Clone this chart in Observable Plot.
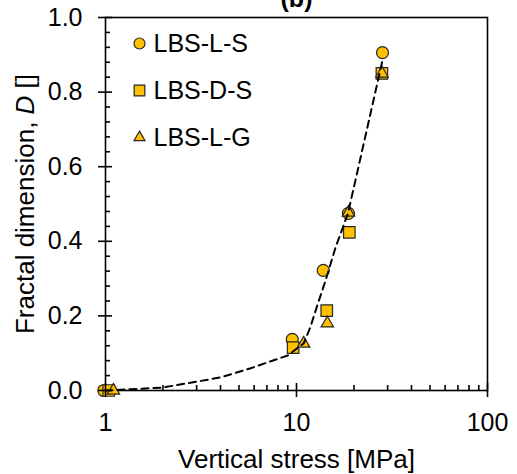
<!DOCTYPE html>
<html>
<head>
<meta charset="utf-8">
<script src="https://cdn.jsdelivr.net/npm/d3@7"></script>
<script src="https://cdn.jsdelivr.net/npm/@observablehq/plot@0.6"></script>
<style>
  html, body { margin: 0; padding: 0; background: #fff; }
</style>
</head>
<body>
<div id="chart"></div>
<script>
// --- Data ---
const seriesNames = ["LBS-L-S", "LBS-D-S", "LBS-L-G"];
const seriesSymbols = ["circle", "square", "triangle"];

const stressLS = [0.98, 9.5, 13.8, 18.7, 28.2];
const fractalLS = [0.0, 0.137, 0.322, 0.475, 0.906];

const stressDS = [1.04, 9.6, 14.4, 18.9, 28.0];
const fractalDS = [0.0, 0.115, 0.214, 0.424, 0.85];

const stressLG = [1.1, 10.9, 14.5, 18.7, 28.0];
const fractalLG = [0.0, 0.126, 0.18, 0.477, 0.85];

// dashed trend curve
const curveStress = [1, 2, 4, 5.7, 9, 10.9, 11.8, 13, 14.2, 16, 18.6, 28.2];
const curveFractal = [0, 0.008, 0.035, 0.059, 0.094, 0.126, 0.169, 0.236, 0.295, 0.383, 0.475, 0.885];

// ticks
const xMajor = [1, 10, 100];
const xMinor = [2, 3, 4, 5, 6, 7, 8, 9, 20, 30, 40, 50, 60, 70, 80, 90];
const yMajor = [0, 0.2, 0.4, 0.6, 0.8, 1.0];
const yMinor = [0.04, 0.08, 0.12, 0.16, 0.24, 0.28, 0.32, 0.36, 0.44, 0.48, 0.52, 0.56, 0.64, 0.68, 0.72, 0.76, 0.84, 0.88, 0.92, 0.96];

const titleText = "(b)";
const xLabel = "Vertical stress [MPa]";
const yLabel = "Fractal dimension, D []";

// --- Build ---
const fillColor = "#FFC000";
const strokeColor = "#262626";
const symbolR = {circle: 6, square: 6.5, triangle: 4.6};

const series = [
  {name: seriesNames[0], symbol: seriesSymbols[0], xs: stressLS, ys: fractalLS},
  {name: seriesNames[1], symbol: seriesSymbols[1], xs: stressDS, ys: fractalDS},
  {name: seriesNames[2], symbol: seriesSymbols[2], xs: stressLG, ys: fractalLG}
];
const curve = curveStress.map((x, i) => ({x, y: curveFractal[i]}));

const font = "'Liberation Sans', Arial, sans-serif";
const W = 517, H = 474, mL = 105, mR = 30, mT = 17, mB = 84;
const frameW = W - mL - mR, frameH = H - mT - mB;

const pointMarks = series.map(s =>
  Plot.dot(s.xs.map((x, i) => ({x, y: s.ys[i]})), {
    x: "x", y: "y", symbol: s.symbol, r: symbolR[s.symbol],
    fill: fillColor, stroke: strokeColor, strokeWidth: 1.2
  })
);

const legendMarks = series.flatMap((s, i) => [
  Plot.dot([s.name], {
    frameAnchor: "top-left", dx: 34, dy: 26 + 47 * i,
    symbol: s.symbol, r: symbolR[s.symbol] - 0.5,
    fill: fillColor, stroke: strokeColor, strokeWidth: 1.2
  }),
  Plot.text([s.name], {
    text: d => d, frameAnchor: "top-left", dx: 48, dy: 26 + 47 * i,
    textAnchor: "start", lineAnchor: "middle", fontSize: 25, fill: "black"
  })
]);

const tickMarks = [
  Plot.tickX(xMajor, {x: d => d, insetTop: frameH - 7, insetBottom: -7, stroke: "black", strokeWidth: 1.6}),
  Plot.tickX(xMinor, {x: d => d, insetTop: frameH - 5, stroke: "black", strokeWidth: 1.6}),
  Plot.tickY(yMajor, {y: d => d, insetRight: frameW - 7, insetLeft: -7, stroke: "black", strokeWidth: 1.6}),
  Plot.tickY(yMinor, {y: d => d, insetRight: frameW - 5, stroke: "black", strokeWidth: 1.6})
];

const plot = Plot.plot({
  width: W,
  height: H,
  marginLeft: mL,
  marginRight: mR,
  marginTop: mT,
  marginBottom: mB,
  style: {fontFamily: font, background: "white", color: "black", overflow: "visible"},
  x: {type: "log", domain: [1, 100]},
  y: {domain: [0, 1]},
  marks: [
    Plot.axisX(xMajor, {tickSize: 0, tickPadding: 23, fontSize: 25, tickFormat: d => String(d), label: null, fill: "black"}),
    Plot.axisY(yMajor, {anchor: "left", tickSize: 0, tickPadding: 23, fontSize: 25, tickFormat: d => d.toFixed(1), label: null, fill: "black"}),
    Plot.frame({stroke: "black", strokeWidth: 1.6}),
    Plot.text([xLabel], {text: d => d, frameAnchor: "bottom", dy: 69, textAnchor: "middle", lineAnchor: "middle", fontSize: 26, fill: "black"}),
    Plot.text([yLabel], {text: d => d, frameAnchor: "left", dx: -80, rotate: -90, textAnchor: "middle", lineAnchor: "middle", fontSize: 26, fill: "black"}),
    Plot.text([titleText], {text: d => d, frameAnchor: "top", dy: -19, textAnchor: "middle", lineAnchor: "middle", fontSize: 25, fontWeight: "bold", fill: "black"}),
    ...pointMarks,
    Plot.line(curve, {x: "x", y: "y", stroke: "black", strokeWidth: 2, strokeDasharray: "7,5"}),
    ...legendMarks,
    ...tickMarks
  ]
});

// italic D in the y label
d3.select(plot).selectAll("text").filter(function() { return this.textContent === yLabel; })
  .each(function() {
    const t = d3.select(this);
    t.text(null);
    t.append("tspan").text("Fractal dimension, ");
    t.append("tspan").attr("font-style", "italic").text("D");
    t.append("tspan").text(" []");
  });

document.getElementById("chart").appendChild(plot);
</script>
</body>
</html>
